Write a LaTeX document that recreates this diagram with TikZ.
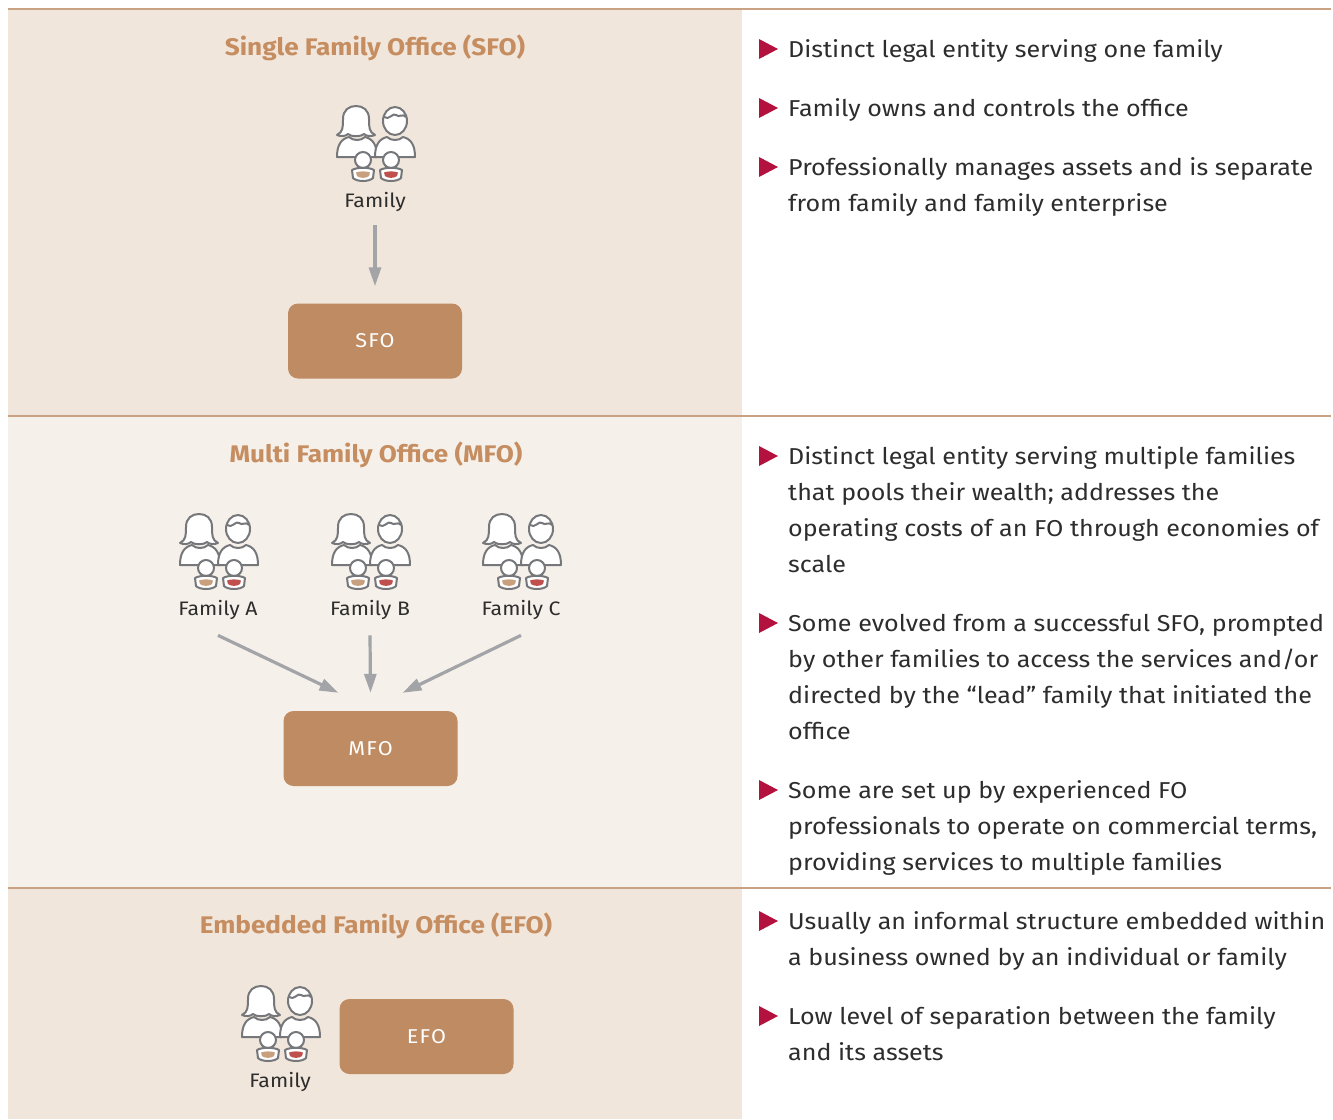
\documentclass[tikz,border=0pt]{standalone}
\usepackage{fontspec}
\setmainfont{Fira Sans}[FakeStretch=1.09]
\newfontfamily\titlefont{Fira Sans}[FakeStretch=1.09]
\newfontfamily\boxfont{Fira Sans}[FakeStretch=1.08, LetterSpace=6]
\usetikzlibrary{arrows.meta}
\definecolor{bgA}{HTML}{F0E6DB}
\definecolor{bgB}{HTML}{F5F0E9}
\definecolor{rule}{HTML}{C9A283}
\definecolor{boxc}{HTML}{BF8B62}
\definecolor{titlec}{HTML}{C58D60}
\definecolor{arrowc}{HTML}{A2A4A7}
\definecolor{bred}{HTML}{B4123E}
\definecolor{txtc}{HTML}{2D2D2D}
\definecolor{icongray}{HTML}{76777A}
\definecolor{kidtan}{HTML}{C9A07E}
\definecolor{kidred}{HTML}{C0504D}
\newcommand\btext[1]{\begin{tabular}[t]{@{}l@{}}#1\end{tabular}}
\tikzset{
  ttl/.style={font=\titlefont\bfseries\fontsize{24}{28}\selectfont, text=titlec, anchor=base, inner sep=0},
  btxt/.style={font=\fontsize{23}{36}\selectfont, text=txtc, anchor=base west, inner sep=0},
  famlbl/.style={font=\fontsize{19.5}{24}\selectfont, text=txtc, anchor=base, inner sep=0},
  obox/.style={fill=boxc, rounded corners=10pt, minimum width=174pt, minimum height=75pt, text=white, font=\boxfont\fontsize{20}{22}\selectfont, inner sep=0},
  arr/.style={draw=arrowc, line width=3.2pt, -{Triangle[length=19pt,width=12pt]}},
  bul/.style={fill=bred},
  family/.pic={
    \begin{scope}[draw=icongray, line width=2pt, fill=white, line join=round]
      \filldraw (-38,14) .. controls (-38,2) and (-34,-4) .. (-26,-6) .. controls (-22,-2) and (-14,-2) .. (-10,-6) .. controls (-2,-4) and (2,2) .. (2,14) -- cycle;
      \filldraw (0,14) .. controls (0,2) and (4,-4) .. (12,-6) .. controls (16,-2) and (24,-2) .. (28,-6) .. controls (36,-4) and (40,2) .. (40,14) -- cycle;
      \filldraw (-38,-8) .. controls (-32,-11) and (-32,-16) .. (-32,-24) .. controls (-32,-33) and (-26,-37) .. (-19,-37) .. controls (-12,-37) and (-6,-33) .. (-6,-24) .. controls (-6,-16) and (-6,-11) .. (0,-8) .. controls (-4,-6) and (-9,-7) .. (-11,-9) .. controls (-14,-6) and (-24,-6) .. (-27,-9) .. controls (-29,-7) and (-34,-6) .. (-38,-8) -- cycle;
      \filldraw (20,-22) ellipse [x radius=12, y radius=14];
      \draw (9,-26) .. controls (14,-22) and (18,-31) .. (21,-28) .. controls (24,-25) and (28,-30) .. (31,-26);
      \filldraw (-12,17) circle [radius=8];
      \filldraw (16,17) circle [radius=8];
      \filldraw (-23,27) .. controls (-18,24) and (-6,24) .. (-1,27) -- (-2,35) .. controls (-6,39) and (-18,39) .. (-22,35) -- cycle;
      \filldraw (5,27) .. controls (10,24) and (22,24) .. (27,27) -- (26,35) .. controls (22,39) and (10,39) .. (6,35) -- cycle;
      \fill[kidtan] (-19,29.5) .. controls (-15,28) and (-9,28) .. (-5,29.5) -- (-6,33) .. controls (-9,35.5) and (-15,35.5) .. (-18,33) -- cycle;
      \fill[kidred] (9,29.5) .. controls (13,28) and (19,28) .. (23,29.5) -- (22,33) .. controls (19,35.5) and (13,35.5) .. (10,33) -- cycle;
    \end{scope}
  }
}
\begin{document}
\begin{tikzpicture}[x=1pt, y=-1pt]
\useasboundingbox (0,0) rectangle (1333,1119);
\fill[white] (0,0) rectangle (1333,1119);
% backgrounds
\fill[bgA] (8,9) rectangle (742,416);
\fill[bgB] (8,416) rectangle (742,888);
\fill[bgA] (8,888) rectangle (742,1119);
\draw[rule, line width=1.5pt] (8,9) -- (1331,9);
\draw[rule, line width=1.2pt] (8,416) -- (1331,416);
\draw[rule, line width=1.2pt] (8,888) -- (1331,888);

% ---------- SFO ----------
\node[ttl] (t1) at (375,55) {Single Family Office (SFO)};
\pic at (375,143) {family};
\node[famlbl] (fs) at (375,207) {Family};
\node[obox] (sfo) at (375,341) {SFO};
\draw[arr, shorten <=14pt, shorten >=17pt] (fs.south) -- (sfo.north);

% ---------- MFO ----------
\node[ttl] (t2) at (376,462) {Multi Family Office (MFO)};
\pic at (218,551) {family};
\pic at (370,551) {family};
\pic at (521,551) {family};
\node[famlbl] (fa) at (218,615) {Family A};
\node[famlbl] (fb) at (370,615) {Family B};
\node[famlbl] (fc) at (521,615) {Family C};
\node[obox] (mfo) at (370.5,748.5) {MFO};
\draw[arr] ([yshift=-16pt]fa.south) -- ([xshift=-32pt,yshift=18pt]mfo.north);
\draw[arr] ([yshift=-16pt]fb.south) -- ([yshift=18pt]mfo.north);
\draw[arr] ([yshift=-16pt]fc.south) -- ([xshift=32pt,yshift=18pt]mfo.north);

% ---------- EFO ----------
\node[ttl] (t3) at (376,933) {Embedded Family Office (EFO)};
\pic at (280,1023) {family};
\node[famlbl] (fe) at (280,1087) {Family};
\node[obox] (efo) at (426.5,1036.5) {EFO};

% ---------- bullets ----------
\foreach \y in {49,108,167,456,623,790,921,1016}{
  \fill[bul] (759,\y-10) -- (778,\y) -- (759,\y+10) -- cycle;
}
\node[btxt] (s1) at (788,57) {\btext{Distinct legal entity serving one family}};
\node[btxt] (s2) at (788,116) {\btext{Family owns and controls the office}};
\node[btxt] (s3) at (788,175) {\btext{Professionally manages assets and is separate\\from family and family enterprise}};
\node[btxt] (m1) at (788,464) {\btext{Distinct legal entity serving multiple families\\that pools their wealth; addresses the\\operating costs of an FO through economies of\\scale}};
\node[btxt] (m2) at (788,631) {\btext{Some evolved from a successful SFO, prompted\\by other families to access the services and/or\\directed by the ``lead'' family that initiated the\\office}};
\node[btxt] (m3) at (788,798) {\btext{Some are set up by experienced FO\\professionals to operate on commercial terms,\\providing services to multiple families}};
\node[btxt] (e1) at (788,929) {\btext{Usually an informal structure embedded within\\a business owned by an individual or family}};
\node[btxt] (e2) at (788,1024) {\btext{Low level of separation between the family\\and its assets}};
\end{tikzpicture}
\end{document}
